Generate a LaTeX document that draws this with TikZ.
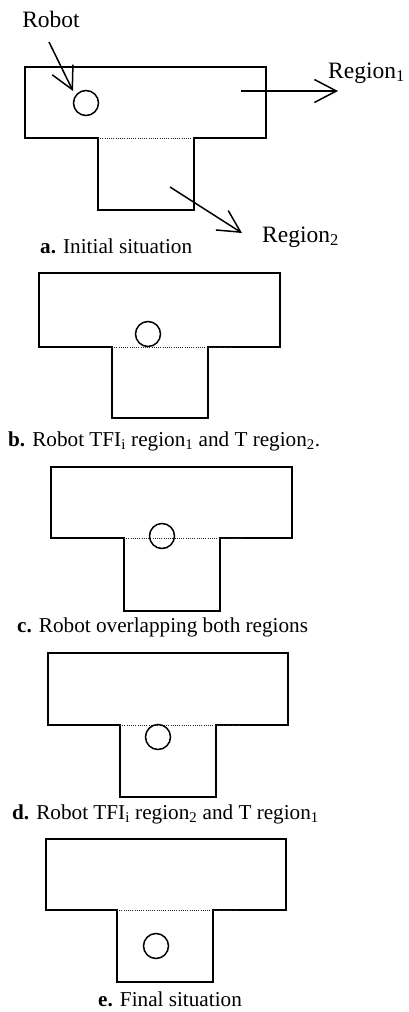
\documentclass[tikz,border=0pt]{standalone}
\usepackage{fontspec}
\setmainfont{Liberation Serif}
\usetikzlibrary{arrows.meta}
\newcommand\Tfig[9]{%
  \draw[tshape] (#1,#3) -- (#2,#3) -- (#2,#4) -- (#6,#4) -- (#6,#7) -- (#5,#7) -- (#5,#4) -- (#1,#4) -- cycle;
  \draw[sepline] (#5,#4) -- (#8,#4);
}
\begin{document}
\begin{tikzpicture}[x=1pt,y=-1pt,
  tshape/.style={draw, line width=1.5pt, line join=miter},
  sepline/.style={dash pattern=on 1pt off 1.2pt, line width=1pt, black!85},
  robot/.style={draw, circle, line width=1.5pt, minimum size=25pt, inner sep=0pt},
  lbl/.style={inner sep=0pt, font=\fontsize{23.5}{28}\selectfont},
  captxt/.style={inner sep=0pt, anchor=base west, font=\fontsize{21.2}{25}\selectfont},
  arr/.style={line width=1.5pt, -{Straight Barb[length=22pt,width=23pt,line width=1.5pt]}}]
\useasboundingbox (0,0) rectangle (408,1012);

% panel a
\Tfig{25}{266}{67}{138}{98}{194}{210}{194}{}
\node[robot] (ra) at (86,103) {};
\node[lbl] (robotlbl) at (51,19) {Robot};
\coordinate (rs) at (49,42);
\coordinate (re) at (73,91);
\draw[arr] (rs) -- (re);
\coordinate (r1s) at (241,91);
\coordinate (r1e) at (338,91);
\draw[arr] (r1s) -- (r1e);
\node[lbl, anchor=base west] (reg1) at (328,78) {Region\textsubscript{1}};
\coordinate (r2s) at (170,187);
\coordinate (r2e) at (242,233);
\draw[arr] (r2s) -- (r2e);
\node[lbl, anchor=base west] (reg2) at (262,242) {Region\textsubscript{2}};
\node[captxt] (capa) at (40,253) {\textbf{a.} Initial situation};

% panel b
\Tfig{39}{280}{273}{347}{112}{208}{418}{232}{}
\node[robot] (rb) at (148,334) {};
\node[captxt] (capb) at (8,446) {\textbf{b.} Robot TFI\textsubscript{i} region\textsubscript{1} and T region\textsubscript{2}.};

% panel c
\Tfig{51}{292}{467}{538}{124}{220}{611}{243}{}
\node[robot] (rc) at (162,536) {};
\node[captxt] (capc) at (17,632) {\textbf{c.} Robot overlapping both regions};

% panel d
\Tfig{48}{288}{653}{725}{120}{216}{797}{240}{}
\node[robot] (rd) at (158,737) {};
\node[captxt] (capd) at (12,819) {\textbf{d.} Robot TFI\textsubscript{i} region\textsubscript{2} and T region\textsubscript{1}};

% panel e
\Tfig{46}{286}{839}{910}{117}{213}{982}{237}{}
\node[robot] (re2) at (156,946) {};
\node[captxt] (cape) at (98,1006) {\textbf{e.} Final situation};
\end{tikzpicture}
\end{document}
